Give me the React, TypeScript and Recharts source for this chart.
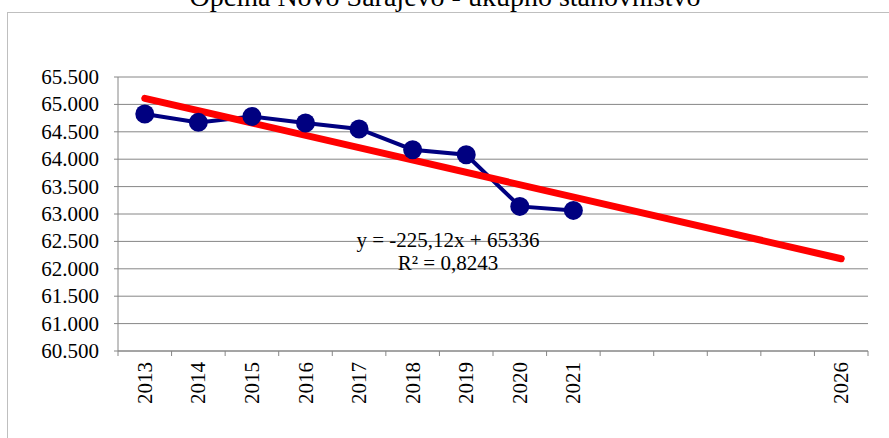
import React from "react";
import {
  LineChart,
  Line,
  XAxis,
  YAxis,
  CartesianGrid,
} from "recharts";

const years = ["2013", "2014", "2015", "2016", "2017", "2018", "2019", "2020", "2021", "2022", "2023", "2024", "2025", "2026"];
const yearLabels = ["2013", "2014", "2015", "2016", "2017", "2018", "2019", "2020", "2021", "", "", "", "", "2026"];
const population = [64825, 64672, 64781, 64661, 64551, 64173, 64082, 63139, 63066, null, null, null, null, null];
// linear trend (Excel): only the end points are needed to draw it
const trend = [65111, null, null, null, null, null, null, null, null, null, null, null, null, 62184];
const yTicks = [60500, 61000, 61500, 62000, 62500, 63000, 63500, 64000, 64500, 65000, 65500];

const title = "Općina Novo Sarajevo - ukupno stanovništvo";
const equation = "y = -225,12x + 65336";
const rSquared = "R² = 0,8243";

const data = years.map((y, i) => ({
  year: y,
  pop: population[i],
  trend: trend[i],
}));

const FONT = '"Liberation Serif", "Times New Roman", serif';
const GRID = "#868686";
const W = 889;
const H = 438;
const MARGIN = { top: 77, right: 21, bottom: 0, left: 0 };
const X_HEIGHT = 87;
const Y_WIDTH = 118;
const PLOT_W = W - MARGIN.left - MARGIN.right - Y_WIDTH;

const textStyle = { fontFamily: FONT, fontSize: 21, fill: "#000" };

const fmt = (v: number) => (v / 1000).toFixed(3);

const XTick = (props: any) => {
  const { x, y, payload, index } = props;
  const bw = PLOT_W / years.length;
  const label = yearLabels[index] ?? payload.value;
  return (
    <g>
      <line x1={x - bw / 2} x2={x - bw / 2} y1={y} y2={y + 5} stroke={GRID} />
      {index === years.length - 1 && (
        <line x1={x + bw / 2} x2={x + bw / 2} y1={y} y2={y + 5} stroke={GRID} />
      )}
      <text
        transform={`translate(${x},${y + 11}) rotate(-90)`}
        textAnchor="end"
        dominantBaseline="central"
        style={textStyle}
      >
        {label}
      </text>
    </g>
  );
};

const YTick = (props: any) => {
  const { y, payload } = props;
  return (
    <text
      x={Y_WIDTH - 19}
      y={y}
      textAnchor="end"
      dominantBaseline="central"
      style={textStyle}
    >
      {fmt(payload.value)}
    </text>
  );
};

export default function App() {
  return (
    <div
      style={{
        position: "absolute",
        left: 0,
        top: 0,
        width: W,
        height: H,
        overflow: "hidden",
        background: "#fff",
      }}
    >
      <div
        style={{
          position: "absolute",
          left: 7,
          top: 12,
          width: 1000,
          height: 1000,
          border: "1px solid #bfbfbf",
        }}
      />
      <div style={{ position: "absolute", left: 0, top: 0 }}>
        <LineChart width={W} height={H} data={data} margin={MARGIN}>
          <CartesianGrid vertical={false} stroke={GRID} />
          <XAxis
            dataKey="year"
            scale="band"
            interval={0}
            tickLine={false}
            tickSize={0}
            tickMargin={0}
            height={X_HEIGHT}
            axisLine={{ stroke: GRID }}
            tick={<XTick />}
          />
          <YAxis
            domain={[60500, 65500]}
            ticks={yTicks}
            width={Y_WIDTH}
            tickSize={4}
            tickLine={{ stroke: GRID }}
            axisLine={{ stroke: GRID }}
            tick={<YTick />}
            interval={0}
          />
          <Line
            dataKey="pop"
            stroke="#000080"
            strokeWidth={4}
            dot={{ r: 9.5, fill: "#000080", stroke: "#000080", strokeWidth: 0 }}
            activeDot={false}
            isAnimationActive={false}
          />
          <Line
            dataKey="trend"
            stroke="#ff0000"
            strokeWidth={7}
            strokeLinecap="round"
            dot={false}
            activeDot={false}
            connectNulls
            isAnimationActive={false}
          />
        </LineChart>
      </div>
      <svg
        width={W}
        height={H}
        style={{ position: "absolute", left: 0, top: 0, pointerEvents: "none" }}
      >
        <text x={445} y={6} textAnchor="middle" style={{ ...textStyle, fontSize: 28 }}>
          {title}
        </text>
        <text x={448} y={247} textAnchor="middle" style={textStyle}>
          {equation}
        </text>
        <text x={448} y={270} textAnchor="middle" style={textStyle}>
          {rSquared}
        </text>
      </svg>
    </div>
  );
}
